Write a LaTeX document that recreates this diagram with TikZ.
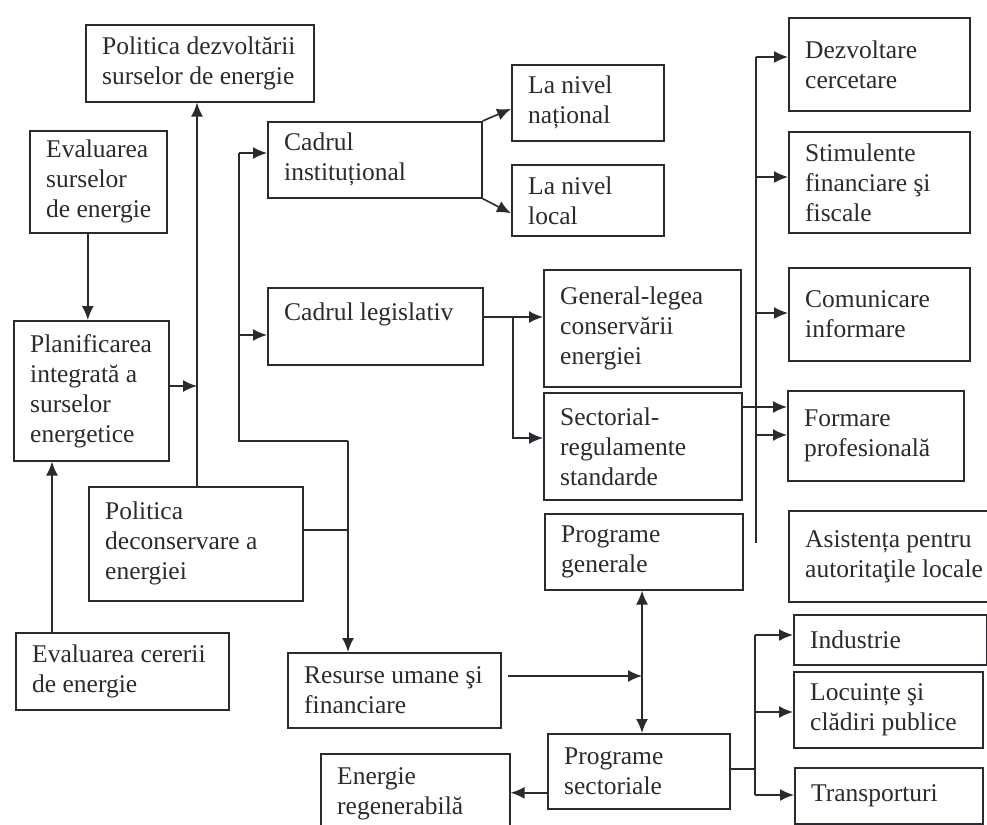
\documentclass[tikz,border=0pt]{standalone}
\usepackage{fontspec}
\setmainfont{Liberation Serif}
\usetikzlibrary{arrows.meta,calc}
\definecolor{ink}{HTML}{2A2A30}
\newcommand{\mybox}[6]{%
  \node[box, minimum width=#4pt, minimum height=#5pt] (#1) at (#2,#3) {};
  \node[txt] (#1-t) at ([xshift=17pt]#1.west) {#6};
}
\begin{document}
\begin{tikzpicture}[x=1pt,y=-1pt,
  box/.style={draw=ink, line width=1.6pt, anchor=north west, inner sep=0pt, fill=none},
  txt/.style={anchor=west, align=left, inner sep=0pt, text=ink,
    font=\fontsize{25.5}{30}\selectfont},
  arr/.style={draw=ink, line width=1.6pt, -{Latex[length=14pt,width=12pt]}},
  arrb/.style={draw=ink, line width=1.6pt, {Latex[length=14pt,width=12pt]}-{Latex[length=14pt,width=12pt]}},
  ln/.style={draw=ink, line width=1.6pt}]
\fill[white] (0,0) rectangle (987,824);
\useasboundingbox (0,0) rectangle (987,824);

% left column
\mybox{pdz}{85}{24}{228}{77}{Politica dezvoltării\\surselor de energie}
\mybox{evs}{29}{130}{137}{102}{Evaluarea\\surselor\\de energie}
\mybox{pla}{13}{320}{155}{140}{Planificarea\\integrată a\\surselor\\energetice}
\mybox{pdc}{88}{486}{214}{114}{Politica\\deconservare a\\energiei}
\mybox{evc}{15}{632}{213}{77}{Evaluarea cererii\\de energie}
\mybox{res}{287}{652}{213}{75}{Resurse umane şi\\financiare}
\mybox{ene}{320}{753}{189}{80}{Energie\\regenerabilă}

% middle column
\mybox{cin}{267}{121}{214}{76}{Cadrul\\instituțional}
\node[box, minimum width=215pt, minimum height=77pt] (cle) at (267,287) {};
\node[txt] (cle-t) at ([xshift=17pt,yshift=12pt]cle.west) {Cadrul legislativ};
\mybox{lnn}{511}{64}{152}{76}{La nivel\\național}
\mybox{lnl}{511}{164}{152}{71}{La nivel\\local}
\mybox{gen}{543}{269}{197}{117}{General-legea\\conservării\\energiei}
\mybox{sec}{543}{392}{198}{107}{Sectorial-\\regulamente\\standarde}
\mybox{pg}{544}{513}{198}{76}{Programe\\generale}
\mybox{ps}{547}{733}{182}{75}{Programe\\sectoriale}

% right column
\mybox{dez}{788}{17}{181}{93}{Dezvoltare\\cercetare}
\mybox{sti}{788}{131}{181}{101}{Stimulente\\financiare şi\\fiscale}
\mybox{com}{788}{267}{181}{93}{Comunicare\\informare}
\mybox{for}{787}{390}{176}{90}{Formare\\profesională}
\mybox{asi}{788}{510}{205}{91}{Asistența pentru\\autoritaţile locale}
\mybox{ind}{793}{614}{193}{50}{Industrie}
\mybox{loc}{793}{671}{189}{76}{Locuințe şi\\clădiri publice}
\mybox{tra}{794}{767}{188}{56}{Transporturi}

% junction coordinates
\coordinate (v1) at (197,386);
\coordinate (c1) at (239,153);
\coordinate (c2) at (239,335);
\coordinate (c3) at (239,441);
\coordinate (c4) at (348,441);
\coordinate (c5) at (348,530);
\coordinate (l1) at (513,317);
\coordinate (l2) at (513,438);
\coordinate (r1) at (756,57);
\coordinate (r2) at (756,177);
\coordinate (r3) at (756,313);
\coordinate (r4) at (756,435);
\coordinate (r5) at (756,543);
\coordinate (s1) at (741,407);
\coordinate (p1) at (642,676);
\coordinate (p0) at (508,676);
\coordinate (t0) at (755,769);
\coordinate (t1) at (755,635);
\coordinate (t2) at (755,712);
\coordinate (t3) at (755,795);

% left connectors
\draw[arr] ([xshift=-10.5pt]evs.south) -- ([xshift=-10.5pt]evs.south |- pla.north);
\draw[arr] ([xshift=37pt]evc.north west) -- ([xshift=37pt]evc.north west |- pla.south);
\draw[arr] ([xshift=109pt]pdc.north west) -- ([xshift=109pt]pdc.north west |- pdz.south);
\draw[arr] (pla.east |- v1) -- (v1);

% institutional / legislative
\draw[arr] (c1) -- (c1 -| cin.west);
\draw[arr] (c2) -- (c2 -| cle.west);
\draw[ln] (c1) -- (c3) -- (c4);
\draw[arr] (c4) -- (c4 |- res.north);
\draw[ln] (pdc.east |- c5) -- (c5);
\draw[arr] (cin.north east) -- ([yshift=-6pt]lnn.west);
\draw[arr] (cin.south east) -- ([yshift=-13pt]lnl.west);
\draw[arr] (cle.east |- l1) -- (l1 -| gen.west);
\draw[arr] (l1) -- (l2) -- (l2 -| sec.west);

% right column
\draw[ln] (r1) -- (r5);
\draw[arr] (r1) -- (r1 -| dez.west);
\draw[arr] (r2) -- (r2 -| sti.west);
\draw[arr] (r3) -- (r3 -| com.west);
\draw[arr] (r4) -- (r4 -| for.west);
\draw[arr] (sec.east |- s1) -- (s1 -| for.west);

% programmes
\draw[arr] (p0) -- (p1);
\draw[arrb] (pg.south -| p1) -- (ps.north -| p1);
\draw[arr] ([yshift=-21.5pt]ps.west) -- ([yshift=-21.5pt]ps.west -| ene.east);
\draw[ln] (ps.east |- t0) -- (t0);
\draw[ln] (t1) -- (t3);
\draw[arr] (t1) -- (t1 -| ind.west);
\draw[arr] (t2) -- (t2 -| loc.west);
\draw[arr] (t3) -- (t3 -| tra.west);
\end{tikzpicture}
\end{document}
